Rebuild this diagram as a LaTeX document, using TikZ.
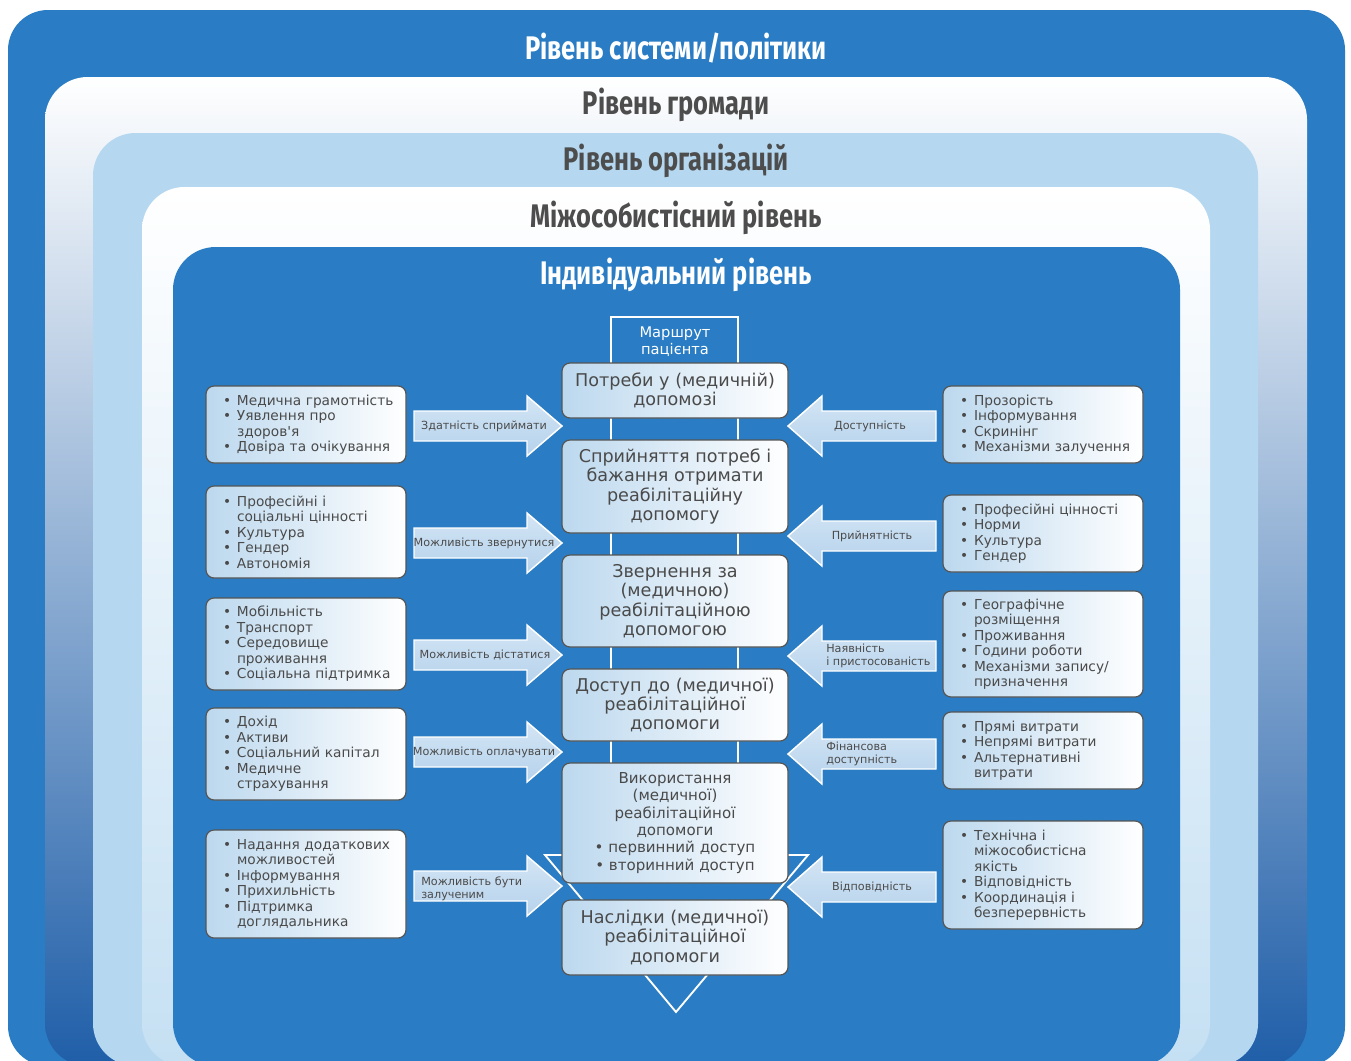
\documentclass[tikz,border=0pt]{standalone}
\usepackage{fontspec}
\setmainfont{DejaVu Sans}[Ligatures=TeXOff]
\newfontfamily\titlefont{Fira Sans}[FakeStretch=0.78]
\definecolor{bluebg}{HTML}{2A7DC4}
\definecolor{lightbg}{HTML}{B5D8F0}
\definecolor{darkgrad}{HTML}{1F5EA8}
\definecolor{midgrad}{HTML}{A9BEDB}
\definecolor{l4bot}{HTML}{C5E0F3}
\definecolor{txt}{HTML}{4A4A4A}
\definecolor{ttl}{HTML}{4D4D4D}
\definecolor{boxl}{HTML}{BCD8EE}
\definecolor{boxline}{HTML}{555555}
\definecolor{arrT}{HTML}{D3E5F4}
\definecolor{arrB}{HTML}{B5D2EC}
\newcommand\bi[1]{\mbox{\makebox[10.5pt][l]{•}#1}}
\newcommand\ci[1]{\mbox{\hspace*{10.5pt}#1}}
\newcommand\rarr[1]{\draw[arrowsty] (414,#1-15) -- (527,#1-15) -- (527,#1-30) -- (562,#1) -- (527,#1+30) -- (527,#1+15) -- (414,#1+15) -- cycle;}
\newcommand\larr[1]{\draw[arrowsty] (936,#1-15) -- (822,#1-15) -- (822,#1-30) -- (788,#1) -- (822,#1+30) -- (822,#1+15) -- (936,#1+15) -- cycle;}
\begin{document}
\begin{tikzpicture}[x=0.75pt,y=-0.75pt,
  title/.style={font=\titlefont\bfseries\fontsize{24.5pt}{27pt}\selectfont, inner sep=0pt},
  sz/.style 2 args={minimum width=#1*0.75pt, minimum height=#2*0.75pt},
  boxbase/.style={draw=boxline, line width=0.9pt, rounded corners=6pt, left color=boxl, right color=white, inner sep=0pt, text=txt},
  cbox/.style={boxbase, align=center, font=\fontsize{13.2pt}{14.6pt}\selectfont},
  sbox/.style={boxbase, text width=124.5pt, align=left, font=\fontsize{10.3pt}{11.6pt}\selectfont},
  arrowsty/.style={draw=white, line width=1.1pt, top color=arrT, bottom color=arrB, line join=miter},
  lab/.style={font=\fontsize{8.4pt}{9.75pt}\selectfont, text=txt, inner sep=0pt, align=left}]
\useasboundingbox (0,0) rectangle (1351,1060);
\clip (0,0) rectangle (1351,1060);
\fill[white] (0,0) rectangle (1351,1060);
% levels
\fill[bluebg, rounded corners=30pt] (8,10) rectangle (1345,1066);
\shade[top color=white, middle color=midgrad, bottom color=darkgrad, rounded corners=32pt] (45,77) rectangle (1307,1066);
\fill[lightbg, rounded corners=32pt] (93,133) rectangle (1258,1066);
\shade[top color=white, bottom color=l4bot, rounded corners=32pt] (142,187) rectangle (1210,1066);
\fill[bluebg, rounded corners=32pt] (173,247) rectangle (1180,1066);
\node[title, text=white] (t1) at (676,48) {Рівень системи/політики};
\node[title, text=ttl] (t2) at (676,105) {Рівень громади};
\node[title, text=ttl] (t3) at (676,161) {Рівень організацій};
\node[title, text=ttl] (t4) at (676,218) {Міжособистісний рівень};
\node[title, text=white] (t5) at (676,275) {Індивідуальний рівень};
% patient route outline
\draw[white, line width=1.4pt, line join=miter] (611,317) -- (738,317) -- (738,855) -- (808,855) -- (676,1012) -- (545,855) -- (611,855) -- cycle;
\node[text=white, align=center, inner sep=0pt, font=\fontsize{11pt}{12.75pt}\selectfont] (route) at (675,342) {Маршрут\\пацієнта};
% central boxes
\node[cbox, sz={226}{55}] (b1) at (675,390.5) {Потреби у (медичній)\\допомозі};
\node[cbox, sz={226}{93}] (b2) at (675,486.5) {Сприйняття потреб і\\бажання отримати\\реабілітаційну\\допомогу};
\node[cbox, sz={226}{92}] (b3) at (675,601) {Звернення за\\(медичною)\\реабілітаційною\\допомогою};
\node[cbox, sz={226}{72}] (b4) at (675,705) {Доступ до (медичної)\\реабілітаційної\\допомоги};
\node[cbox, sz={226}{120}, font=\fontsize{11.3pt}{13pt}\selectfont] (b5) at (675,823) {Використання\\(медичної)\\реабілітаційної\\допомоги\\• первинний доступ\\• вторинний доступ};
\node[cbox, sz={226}{75}] (b6) at (675,937.5) {Наслідки (медичної)\\реабілітаційної\\допомоги};
% left boxes
\node[sbox, sz={200}{77}] (l1) at (306,424.5) {\bi{Медична грамотність}\\\bi{Уявлення про}\\\ci{здоров'я}\\\bi{Довіра та очікування}};
\node[sbox, sz={200}{92}] (l2) at (306,532) {\bi{Професійні і}\\\ci{соціальні цінності}\\\bi{Культура}\\\bi{Гендер}\\\bi{Автономія}};
\node[sbox, sz={200}{92}] (l3) at (306,644) {\bi{Мобільність}\\\bi{Транспорт}\\\bi{Середовище}\\\ci{проживання}\\\bi{Соціальна підтримка}};
\node[sbox, sz={200}{92}] (l4) at (306,754) {\bi{Дохід}\\\bi{Активи}\\\bi{Соціальний капітал}\\\bi{Медичне}\\\ci{страхування}};
\node[sbox, sz={200}{108}] (l5) at (306,884) {\bi{Надання додаткових}\\\ci{можливостей}\\\bi{Інформування}\\\bi{Прихильність}\\\bi{Підтримка}\\\ci{доглядальника}};
% right boxes
\node[sbox, sz={200}{77}] (r1) at (1043,424.5) {\bi{Прозорість}\\\bi{Інформування}\\\bi{Скринінг}\\\bi{Механізми залучення}};
\node[sbox, sz={200}{77}] (r2) at (1043,533.5) {\bi{Професійні цінності}\\\bi{Норми}\\\bi{Культура}\\\bi{Гендер}};
\node[sbox, sz={200}{106}] (r3) at (1043,644) {\bi{Географічне}\\\ci{розміщення}\\\bi{Проживання}\\\bi{Години роботи}\\\bi{Механізми запису/}\\\ci{призначення}};
\node[sbox, sz={200}{77}] (r4) at (1043,750.5) {\bi{Прямі витрати}\\\bi{Непрямі витрати}\\\bi{Альтернативні}\\\ci{витрати}};
\node[sbox, sz={200}{108}] (r5) at (1043,875) {\bi{Технічна і}\\\ci{міжособистісна}\\\ci{якість}\\\bi{Відповідність}\\\bi{Координація і}\\\ci{безперервність}};
% block arrows
\rarr{426} \rarr{543} \rarr{655} \rarr{752} \rarr{886}
\larr{426} \larr{536} \larr{656} \larr{754} \larr{887}
\node[lab] (a1) at (484,426) {Здатність сприймати};
\node[lab] (a2) at (484,543) {Можливість звернутися};
\node[lab] (a3) at (485,655) {Можливість дістатися};
\node[lab] (a4) at (484,752) {Можливість оплачувати};
\node[lab, anchor=west] (a5) at (421,889) {Можливість бути\\залученим};
\node[lab] (c1) at (870,426) {Доступність};
\node[lab] (c2) at (872,536) {Прийнятність};
\node[lab, anchor=west] (c3) at (826,656) {Наявність\\і пристосованість};
\node[lab, anchor=west] (c4) at (826,754) {Фінансова\\доступність};
\node[lab] (c5) at (872,887) {Відповідність};
\end{tikzpicture}
\end{document}
